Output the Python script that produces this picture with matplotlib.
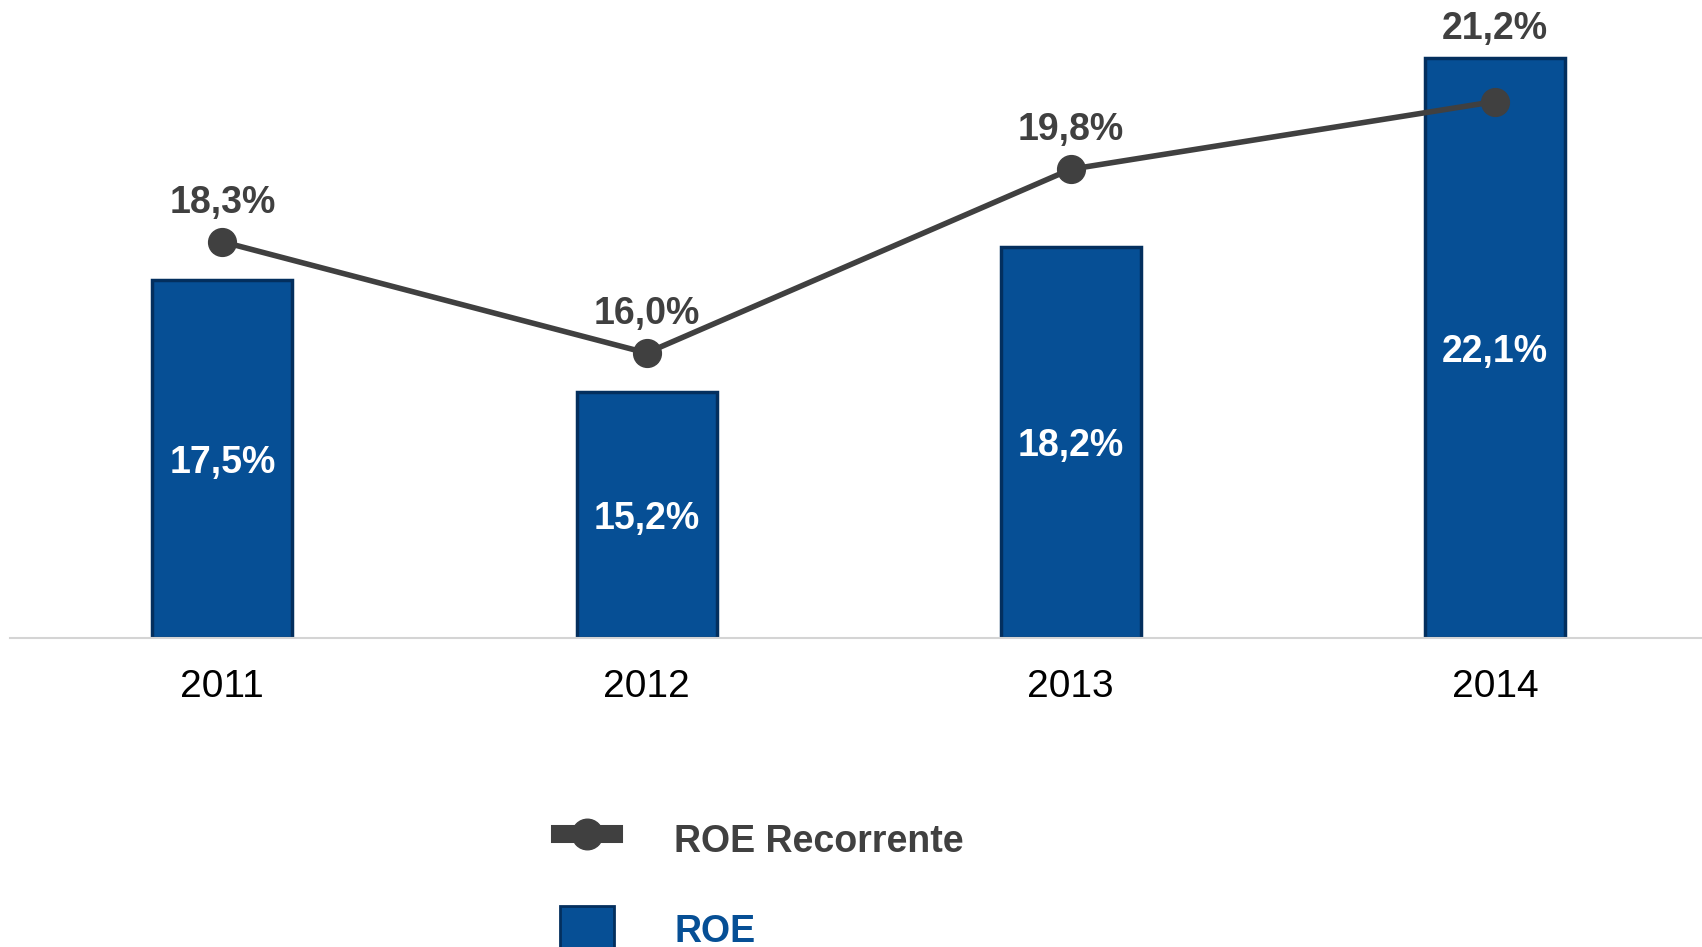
import matplotlib.pyplot as plt
from matplotlib.lines import Line2D
from matplotlib.patches import Patch

# Data
years = ["2011", "2012", "2013", "2014"]
roe = [17.5, 15.2, 18.2, 22.1]
roe_recorrente = [18.3, 16.0, 19.8, 21.2]
roe_labels = ["17,5%", "15,2%", "18,2%", "22,1%"]
rec_labels = ["18,3%", "16,0%", "19,8%", "21,2%"]

BLUE = "#064F95"
EDGE = "#032F5E"
GREY = "#404040"
YMIN, YMAX = 10.1, 23.3

fam = ["Liberation Sans", "DejaVu Sans"]

fig = plt.figure(figsize=(17.02, 9.47), dpi=100)
ax = fig.add_axes([0.006, 0.326, 0.997, 0.674])

x = range(len(years))
ax.bar(x, [v - YMIN for v in roe], bottom=YMIN, width=0.33, color=BLUE,
       edgecolor=EDGE, linewidth=2.5, zorder=2)
ax.plot(x, roe_recorrente, color=GREY, linewidth=4, marker="o",
        markersize=20, zorder=3)

# labels inside bars
for i, (v, lab) in enumerate(zip(roe, roe_labels)):
    ax.text(i, (YMIN + v) / 2 - 0.08, lab, ha="center", va="center", color="white",
            fontsize=27, fontweight="bold", family=fam, zorder=4)

# labels above line points (last one sits above its bar)
for i, (v, lab) in enumerate(zip(roe_recorrente, rec_labels)):
    if i == len(roe_recorrente) - 1:
        ax.annotate(lab, (i, roe[i]), xytext=(0, 21), textcoords="offset points",
                    ha="center", va="center", color=GREY, fontsize=27,
                    fontweight="bold", family=fam)
    else:
        ax.annotate(lab, (i, v), xytext=(0, 28), textcoords="offset points",
                    ha="center", va="center", color=GREY, fontsize=27,
                    fontweight="bold", family=fam)

ax.set_xlim(-0.5, 3.5)
ax.set_ylim(YMIN, YMAX)
ax.set_xticks(list(x))
ax.set_xticklabels(years, fontsize=28, family=fam, color="black")
ax.tick_params(axis="x", length=0, pad=22)
ax.set_yticks([])
for s in ["top", "right", "left"]:
    ax.spines[s].set_visible(False)
ax.spines["bottom"].set_color("#d4d4d4")
ax.spines["bottom"].set_linewidth(1.5)
ax.patch.set_alpha(0)

# legend
handles = [
    Line2D([], [], color=GREY, linewidth=13, marker="o", markersize=22),
    Patch(facecolor=BLUE, edgecolor=EDGE, linewidth=2),
]
leg = fig.legend(handles, ["ROE Recorrente", "ROE"], loc="upper left",
                 bbox_to_anchor=(0.318, 0.158), frameon=False, borderpad=0,
                 handlelength=1.45, handleheight=1.55, handletextpad=1.6,
                 labelspacing=1.15, prop={"family": fam, "weight": "bold", "size": 27})
texts = leg.get_texts()
texts[0].set_color(GREY)
texts[1].set_color(BLUE)

fig.savefig("out.png", dpi=100)
